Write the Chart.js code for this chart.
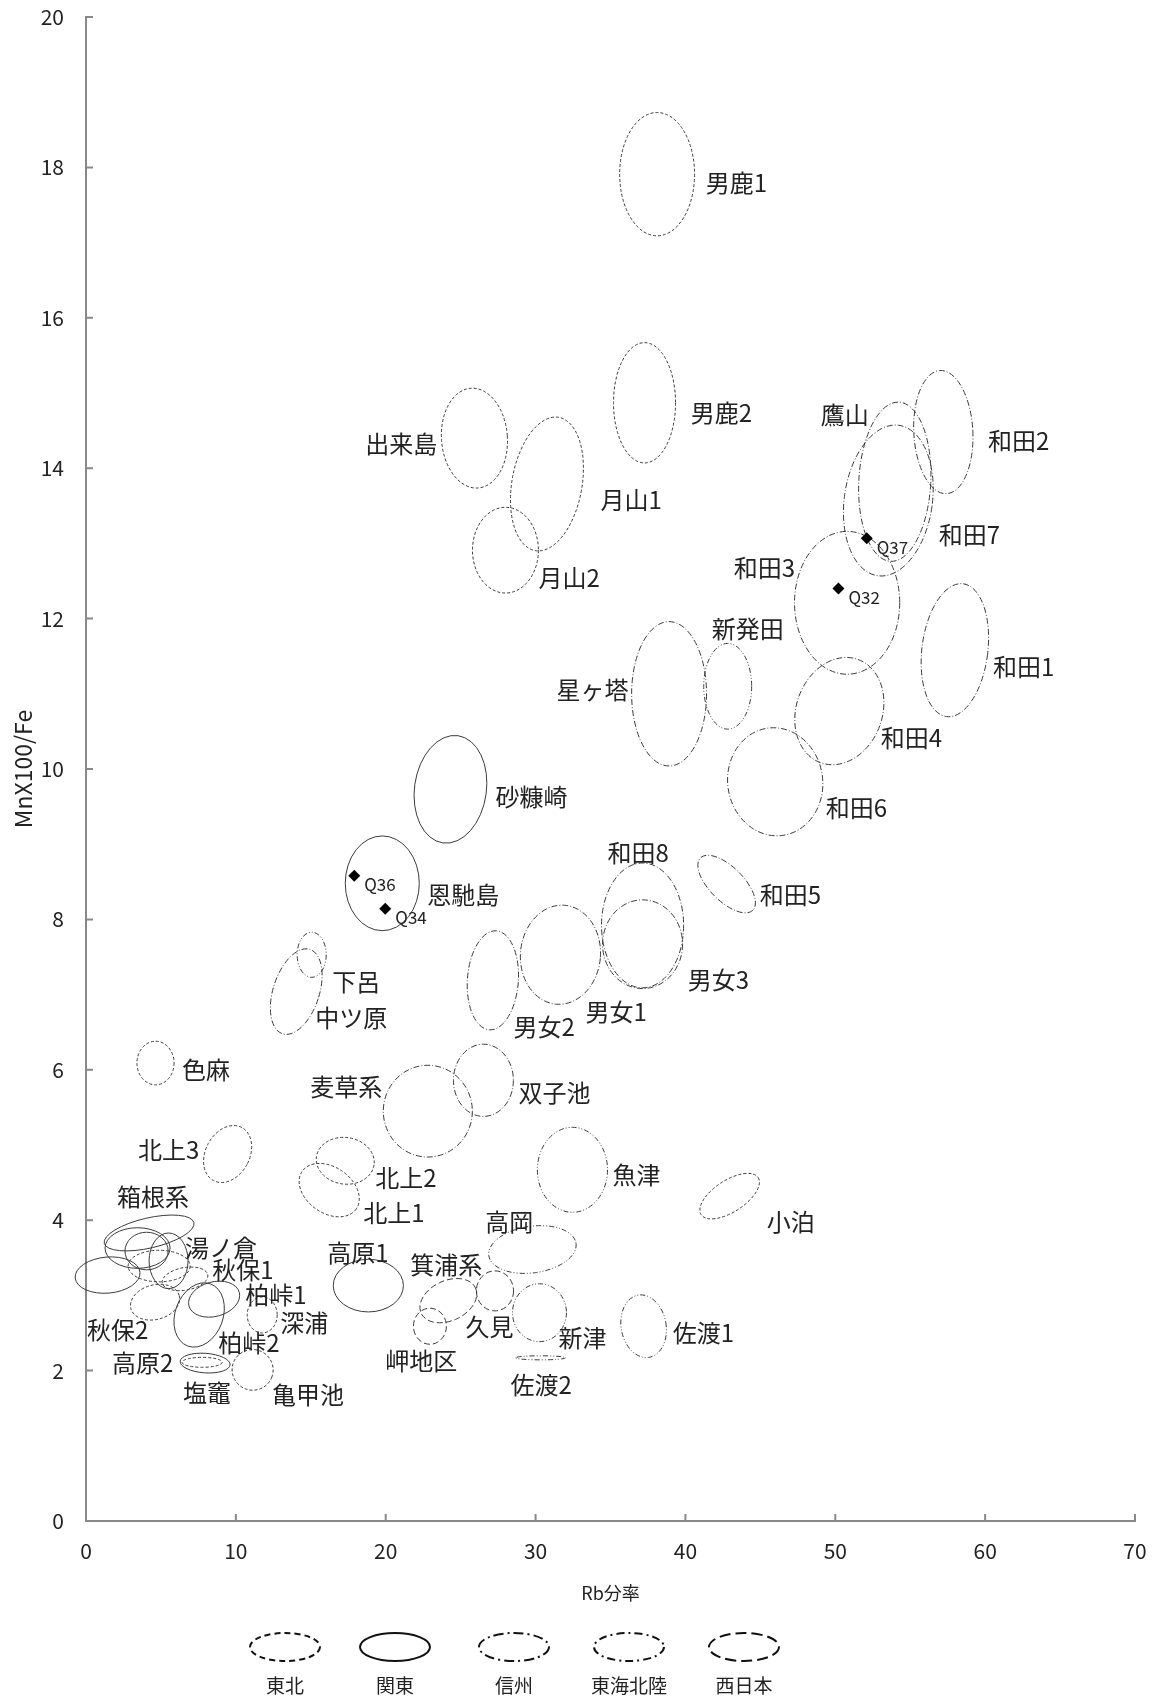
<!DOCTYPE html>
<html>
<head>
<meta charset="utf-8">
<script src="https://cdn.jsdelivr.net/npm/chart.js@4.4.1/dist/chart.umd.min.js"></script>
<style>
  html, body { margin: 0; padding: 0; background: #fff; }
</style>
</head>
<body>
<canvas id="chart" width="1156" height="1699"></canvas>
<script>
const FONT = '"Noto Sans CJK JP", "Noto Sans", sans-serif';

// obsidian source ellipses: Rb分率 (x) vs MnX100/Fe (y)
// radii are in axis units, tilt in degrees (clockwise)
const names = ['男鹿1','男鹿2','出来島','月山1','月山2','和田3','和田1','新発田','星ヶ塔','和田4',
  '和田6','和田5','和田2','鷹山','和田7','砂糠崎','恩馳島','和田8','男女3','男女1',
  '男女2','下呂','中ツ原','麦草系','双子池','魚津','小泊','北上2','北上1','高岡',
  '箕浦系','久見','岬地区','新津','佐渡1','佐渡2','北上3','色麻','高原1','箱根系',
  '箱根系','箱根系','箱根系','箱根系','柏峠2','柏峠1','高原2','塩竈','湯ノ倉','秋保1',
  '秋保2','深浦','亀甲池'];
const groups = ['東北','東北','東北','東北','東北','信州','信州','東海北陸','信州','信州',
  '信州','信州','信州','信州','信州','関東','関東','信州','信州','信州',
  '信州','東海北陸','信州','信州','信州','東海北陸','東北','東北','東北','東海北陸',
  '西日本','西日本','西日本','東海北陸','東海北陸','東海北陸','東北','東北','関東','関東',
  '関東','関東','関東','関東','関東','関東','関東','東北','東北','東北',
  '東北','東北','東北'];
const cx = [38.11,37.27,25.92,30.76,27.99,50.79,57.98,42.82,38.91,50.27,
  45.99,42.75,57.21,53.97,53.54,24.32,19.77,37.14,37.14,31.66,
  27.15,15.06,14.03,22.81,26.52,32.46,42.95,17.30,16.23,29.79,
  24.18,27.29,22.95,30.26,37.21,30.33,9.45,4.64,18.84,4.21,
  3.44,4.04,5.51,1.44,7.55,8.55,7.95,7.75,4.88,6.61,
  4.61,11.76,11.12];
const cy = [17.91,14.87,14.40,13.79,12.91,12.21,11.58,11.10,11.00,10.77,
  9.83,8.47,14.48,13.82,13.57,9.73,8.48,7.92,7.67,7.53,
  7.19,7.53,7.04,5.45,5.86,4.67,4.32,4.79,4.40,3.61,
  2.93,3.06,2.59,2.77,2.59,2.17,4.88,6.09,3.13,3.83,
  3.63,3.59,3.46,3.27,2.74,2.95,2.10,2.11,3.39,3.22,
  2.91,2.74,2.01];
const rx = [2.50,2.07,2.20,2.34,2.20,3.51,2.20,1.60,2.50,2.87,
  3.17,2.47,1.97,2.40,2.94,2.40,2.47,2.74,2.67,2.67,
  1.70,0.97,1.54,2.97,2.00,2.34,2.27,1.94,2.20,2.94,
  2.00,1.24,1.10,1.80,1.50,1.67,1.47,1.24,2.34,3.07,
  2.17,1.44,1.30,2.17,1.60,1.74,1.67,1.34,2.07,1.54,
  1.67,1.00,1.37];
const ry = [0.82,0.80,0.665,0.90,0.57,0.95,0.89,0.57,0.96,0.73,
  0.72,0.226,0.82,1.06,1.01,0.72,0.63,0.83,0.59,0.66,
  0.66,0.30,0.59,0.61,0.48,0.565,0.21,0.31,0.306,0.31,
  0.266,0.266,0.24,0.385,0.42,0.027,0.40,0.29,0.35,0.20,
  0.27,0.25,0.37,0.24,0.44,0.23,0.13,0.066,0.21,0.15,
  0.23,0.24,0.27];
const tilt = [0,0,-4,10,0,0,7,0,0,20,
  -8,45,-3,3,8,8,0,0,0,5,
  4,0,18,0,0,0,-33,8,35,-8,
  -25,0,0,0,-10,0,28,0,0,-13,
  0,0,0,-5,20,-15,4,0,0,-10,
  -15,0,20];

// name labels, anchored at their left edge
const labelText = ['男鹿1','男鹿2','出来島','月山1','月山2','和田3','和田1','新発田','星ヶ塔','和田4',
  '和田6','和田5','和田2','鷹山','和田7','砂糠崎','恩馳島','和田8','男女3','男女1',
  '男女2','下呂','中ツ原','麦草系','双子池','魚津','小泊','北上2','北上1','高岡',
  '箕浦系','久見','岬地区','新津','佐渡1','佐渡2','北上3','箱根系','湯ノ倉','秋保1',
  '柏峠1','深浦','柏峠2','秋保2','高原2','塩竈','亀甲池','高原1','色麻'];
const labelX = [41.35,40.35,18.64,34.34,30.19,43.22,60.52,41.75,31.40,53.04,
  49.37,44.96,60.19,49.03,56.91,27.32,22.78,34.80,40.15,33.33,
  28.52,16.43,15.30,14.96,28.86,35.14,45.42,19.31,18.50,26.65,
  21.64,25.32,19.97,31.53,39.15,28.32,3.47,2.07,6.61,8.42,
  10.62,12.96,8.82,0.07,1.74,6.48,12.42,16.10,6.41];
const labelY = [17.79,14.73,14.32,13.58,12.54,12.67,11.36,11.86,11.05,10.41,
  9.48,8.32,14.37,14.71,13.11,9.63,8.32,8.88,7.19,6.77,
  6.57,7.17,6.69,5.77,5.69,4.60,3.98,4.56,4.10,3.98,
  3.40,2.58,2.13,2.43,2.50,1.81,4.93,4.31,3.63,3.34,
  3.01,2.63,2.37,2.54,2.10,1.70,1.68,3.56,6.00];

// measured samples
const qNames = ['Q32','Q37','Q36','Q34'];
const qX = [50.21,52.10,17.90,19.97];
const qY = [12.40,13.07,8.58,8.14];

const regions = ['東北','関東','信州','東海北陸','西日本'];
const xTicks = [0,10,20,30,40,50,60,70];
const yTicks = [0,2,4,6,8,10,12,14,16,18,20];

const plotDash = { '東北': [3,2], '関東': [], '信州': [6,2,1,2], '東海北陸': [5,2,1,2,1,2], '西日本': [6,3] };
const legendDash = { '東北': [6,4], '関東': [], '信州': [10,4,2,4], '東海北陸': [8,4,2,4], '西日本': [11,5] };

const ellipsePlugin = {
  id: 'ellipses',
  beforeDatasetsDraw(chart) {
    const { ctx, scales: { x, y } } = chart;
    ctx.save();
    ctx.strokeStyle = '#3a3a3a';
    ctx.lineWidth = 1;
    names.forEach((n, i) => {
      const px = x.getPixelForValue(cx[i]);
      const py = y.getPixelForValue(cy[i]);
      const rpx = Math.abs(x.getPixelForValue(cx[i] + rx[i]) - px);
      const rpy = Math.abs(y.getPixelForValue(cy[i] + ry[i]) - py);
      ctx.setLineDash(plotDash[groups[i]]);
      ctx.beginPath();
      ctx.ellipse(px, py, rpx, rpy, tilt[i] * Math.PI / 180, 0, Math.PI * 2);
      ctx.stroke();
    });
    ctx.restore();
  },
  afterDatasetsDraw(chart) {
    const { ctx, scales: { x, y } } = chart;
    ctx.save();
    ctx.fillStyle = '#222';
    ctx.textAlign = 'left';
    ctx.textBaseline = 'middle';
    ctx.font = '24px ' + FONT;
    labelText.forEach((t, i) => {
      ctx.fillText(t, x.getPixelForValue(labelX[i]), y.getPixelForValue(labelY[i]));
    });
    ctx.font = '17px ' + FONT;
    qNames.forEach((t, i) => {
      ctx.fillText(t, x.getPixelForValue(qX[i]) + 10, y.getPixelForValue(qY[i]) + 9);
    });
    ctx.restore();
  },
  afterDraw(chart) {
    const { ctx, scales: { x, y } } = chart;
    ctx.save();
    // inward tick marks
    ctx.strokeStyle = '#888';
    ctx.lineWidth = 2;
    ctx.beginPath();
    xTicks.forEach(v => {
      const px = x.getPixelForValue(v);
      ctx.moveTo(px, y.bottom);
      ctx.lineTo(px, y.bottom - 7);
    });
    yTicks.forEach(v => {
      const py = y.getPixelForValue(v);
      ctx.moveTo(x.left, py);
      ctx.lineTo(x.left + 7, py);
    });
    ctx.stroke();

    // region legend
    const legendX = [285, 395, 514, 629, 744];
    ctx.strokeStyle = '#111';
    ctx.lineWidth = 2;
    ctx.fillStyle = '#222';
    ctx.font = '19px ' + FONT;
    ctx.textAlign = 'center';
    ctx.textBaseline = 'middle';
    regions.forEach((r, i) => {
      ctx.setLineDash(legendDash[r]);
      ctx.beginPath();
      ctx.ellipse(legendX[i], 1647, 35, 14, 0, 0, Math.PI * 2);
      ctx.stroke();
      ctx.fillText(r, legendX[i], 1686);
    });
    ctx.restore();
  }
};

new Chart(document.getElementById('chart'), {
  type: 'scatter',
  data: {
    datasets: [{
      data: qX.map((v, i) => ({ x: v, y: qY[i] })),
      pointStyle: 'rectRot',
      pointRadius: 6,
      backgroundColor: '#000',
      borderColor: '#000',
      borderWidth: 0
    }]
  },
  options: {
    responsive: false,
    animation: false,
    layout: { padding: { left: 0, top: 17, right: 21, bottom: 78 } },
    plugins: { legend: { display: false }, tooltip: { enabled: false } },
    scales: {
      x: {
        type: 'linear', min: 0, max: 70,
        afterFit(s) { s.height = 100; s.paddingLeft = 0; s.paddingRight = 0; },
        afterBuildTicks(s) { s.ticks = xTicks.map(v => ({ value: v })); },
        ticks: { font: { family: FONT, size: 21 }, color: '#222', padding: 17 },
        grid: { display: false, drawTicks: false },
        border: { color: '#888', width: 2 },
        title: { display: true, text: 'Rb分率', font: { family: FONT, size: 18 }, color: '#222', padding: { bottom: 17 } }
      },
      y: {
        type: 'linear', min: 0, max: 20,
        afterFit(s) { s.width = 86; s.paddingTop = 0; s.paddingBottom = 0; },
        afterBuildTicks(s) { s.ticks = yTicks.map(v => ({ value: v })); },
        ticks: { font: { family: FONT, size: 21 }, color: '#222', padding: 22 },
        grid: { display: false, drawTicks: false },
        border: { color: '#888', width: 2 },
        title: { display: true, text: 'MnX100/Fe', font: { family: FONT, size: 23 }, color: '#222', padding: { top: 9 } }
      }
    }
  },
  plugins: [ellipsePlugin]
});
</script>
</body>
</html>
